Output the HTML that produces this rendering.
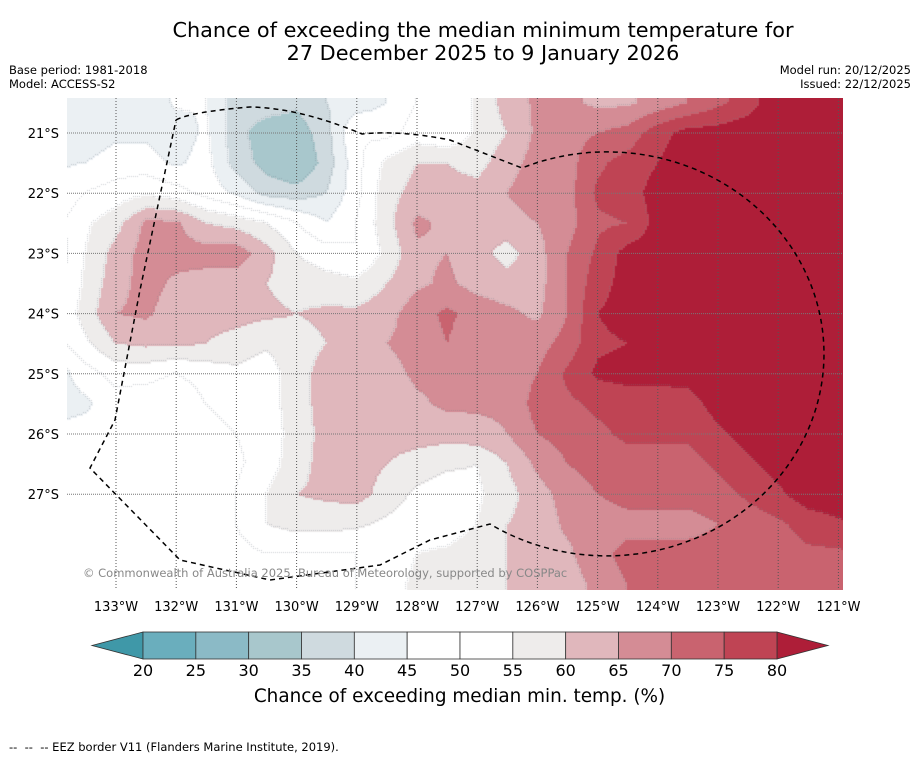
<!DOCTYPE html>
<html><head><meta charset="utf-8"><style>
body{margin:0;background:#fff;width:919px;height:758px;overflow:hidden;position:relative;font-family:"DejaVu Sans","Liberation Sans",sans-serif;}
.t{position:absolute;white-space:nowrap;color:#000;}
</style></head><body>
<div class="t" style="left:0;width:966px;top:19px;text-align:center;font-size:20.8px;line-height:23px;">Chance of exceeding the median minimum temperature for<br>27 December 2025 to 9 January 2026</div>
<div class="t" style="left:9px;top:63px;font-size:11.5px;line-height:14px;">Base period: 1981-2018<br>Model: ACCESS-S2</div>
<div class="t" style="right:8px;top:63px;font-size:11.5px;line-height:14px;text-align:right;">Model run: 20/12/2025<br>Issued: 22/12/2025</div>
<canvas id="map" width="776" height="492" style="position:absolute;left:67px;top:98px;"></canvas>
<svg id="ov" width="919" height="758" style="position:absolute;left:0;top:0;"></svg>
<div class="t" style="left:83px;top:566px;font-size:11.5px;color:#888;">© Commonwealth of Australia 2025, Bureau of Meteorology, supported by COSPPac</div>
<div class="t" style="left:0;width:919px;text-align:center;top:686px;font-size:18.4px;">Chance of exceeding median min. temp. (%)</div>
<div class="t" style="left:9px;top:740px;font-size:11.5px;">--&nbsp; --&nbsp; -- EEZ border V11 (Flanders Marine Institute, 2019).</div>
<script>
const lons=[134,133.5,133,132.5,132,131.5,131,130.5,130,129.5,129,128.5,128,127.5,127,126.5,126,125.5,125,124.5,124,123.5,123,122.5,122,121.5,121,120.5];
const lats=[20.5,21,21.5,22,22.5,23,23.5,24,24.5,25,25.5,26,26.5,27,27.5,28,28.5,29];
const r0=[42,42,43,40,46,45,38,38,36,40,42,45,50,50,56,62,66,66,64,64,67,70,74,77,85,85,85,85];
const r1=[42,42,44,44,42,46,37,32,32,38,50,48,52,50,56,60,66,68,70,72,78,82,82,84,85,85,85,85];
const r2=[44,45,47,47,44,47,38,33,30,37,48,56,60,60,58,63,67,68,74,77,80,83,83,84,85,85,85,85];
const r3=[46,50,52,54,52,48,44,38,37,40,48,58,62,62,62,65,68,68,76,78,82,83,83,84,85,85,85,85];
const r4=[48,54,58,66,66,60,58,55,50,45,50,58,66,64,62,63,65,68,74,75,82,83,83,84,85,85,85,85];
const r5=[46,55,62,67,67,67,68,62,55,52,50,56,64,65,62,58,63,70,76,82,83,83,84,84,85,85,85,85];
const r6=[47,56,63,67,64,63,62,60,58,57,56,60,64,66,63,62,63,70,78,82,83,83,84,84,85,85,85,85];
const r7=[50,57,65,66,62,62,62,61,60,61,61,63,68,71,68,66,64,70,80,82,83,83,84,84,85,85,85,85];
const r8=[48,54,60,61,61,60,58,56,58,60,63,65,67,70,67,67,68,72,79,80,81,82,82,83,85,85,85,85];
const r9=[42,48,52,52,50,52,54,52,58,62,63,63,66,67,67,67,70,76,81,82,82,82,83,84,85,85,85,85];
const r10=[42,44,48,47,46,50,52,52,58,62,62,62,64,66,66,66,72,74,76,77,77,78,82,83,84,85,85,85];
const r11=[47,47,46,48,48,48,50,52,57,62,62,62,62,62,63,65,70,72,74,76,76,76,79,82,84,85,85,85];
const r12=[48,48,50,49,48,48,49,52,58,62,62,60,58,56,55,60,66,70,72,73,73,73,76,79,82,84,85,85];
const r13=[48,48,48,48,48,48,50,55,60,61,62,58,54,52,54,58,63,67,70,72,72,72,73,76,79,83,84,85];
const r14=[48,48,48,48,48,48,50,55,57,57,56,54,52,52,55,60,62,66,67,68,68,68,70,72,74,77,79,80];
const r15=[48,48,48,48,48,48,48,50,50,50,50,52,55,56,58,60,62,64,68,72,72,72,72,72,73,74,74,75];
const r16=[48,48,48,48,48,48,48,48,48,48,50,53,56,58,58,60,61,63,66,70,72,72,72,72,72,72,72,72];
const r17=[48,48,48,48,48,48,48,48,48,48,50,53,56,58,58,60,61,63,66,70,72,72,72,72,72,72,72,72];
const grid=[r0,r1,r2,r3,r4,r5,r6,r7,r8,r9,r10,r11,r12,r13,r14,r15,r16,r17];
const levels=[20,25,30,35,40,45,50,55,60,65,70,75,80];
const colors=["#3f98a8","#6aaebd","#8bbac6","#a8c7cc","#cfdadf","#ebf0f3","#ffffff","#ffffff","#eeeceb","#e0b7bc","#d48c95","#c9636f","#bf4454","#ae1e38"];
const tickLons=[133,132,131,130,129,128,127,126,125,124,123,122,121];
const tickLats=[21,22,23,24,25,26,27];
const cbLabels=[20,25,30,35,40,45,50,55,60,65,70,75,80];
const PX=60.2;
function xOf(lon){return 116+(133-lon)*PX;}
function yOf(lat){return 133+(lat-21)*PX;}
function lonOf(x){return 133-(x-116)/PX;}
function latOf(y){return 21+(y-133)/PX;}
function val(lon,lat){
  let fi=(134-lon)/0.5, fj=(lat-20.5)/0.5;
  fi=Math.max(0,Math.min(lons.length-1.001,fi)); fj=Math.max(0,Math.min(lats.length-1.001,fj));
  const i=Math.floor(fi),j=Math.floor(fj),a=fi-i,b=fj-j;
  return grid[j][i]*(1-a)*(1-b)+grid[j][i+1]*a*(1-b)+grid[j+1][i]*(1-a)*b+grid[j+1][i+1]*a*b;
}
function lvl(v){let k=0;while(k<levels.length&&v>=levels[k])k++;return k;}
const cv=document.getElementById('map'),ctx=cv.getContext('2d');
const S=2,W=776,H=492;
const idx=[];
for(let y=0;y<H;y+=S){const row=[];for(let x=0;x<W;x+=S){row.push(lvl(val(lonOf(x+67+S/2),latOf(y+98+S/2))));}idx.push(row);}
for(let r=0;r<idx.length;r++)for(let c=0;c<idx[r].length;c++){
  ctx.fillStyle=colors[idx[r][c]];ctx.fillRect(c*S,r*S,S,S);
  const k=idx[r][c];
  if((c+1<idx[r].length&&idx[r][c+1]!==k)||(r+1<idx.length&&idx[r+1][c]!==k)){ctx.fillStyle="rgba(120,130,140,0.35)";ctx.fillRect(c*S,r*S,1,1);}
}
const NS="http://www.w3.org/2000/svg",ov=document.getElementById('ov');
function mk(t,a,p){const e=document.createElementNS(NS,t);for(const k in a)e.setAttribute(k,a[k]);(p||ov).appendChild(e);return e;}
tickLons.forEach(l=>{
  const x=xOf(l);
  const g=mk('line',{x1:x,x2:x,y1:98,y2:590,stroke:'#555','stroke-width':1,'stroke-dasharray':'1,2'});
  
  
  const t=mk('text',{x:x,y:611,'font-size':13,'text-anchor':'middle','font-family':'DejaVu Sans, sans-serif'});
  t.textContent=l+'°W';
  
  
});
tickLats.forEach(l=>{
  const y=yOf(l);
  const g=mk('line',{x1:67,x2:843,y1:y,y2:y,stroke:'#777','stroke-width':1,'stroke-dasharray':'1,1'});
  
  
  const t=mk('text',{x:59,y:y+5,'font-size':13,'text-anchor':'end','font-family':'DejaVu Sans, sans-serif'});
  t.textContent=l+'°S';
  
  
});
const eez=mk('path',{d:'M176,120 Q190,112 250,107 Q300,108 362,134 Q400,130 450,140 L522,168 A217,202 0 1 1 490,524 L430,540 L380,565 L270,580 L180,560 L90,468 L115,420 L140,290 L176,120',fill:'none',stroke:'#000','stroke-width':1.5,'stroke-dasharray':'5,4'});


const cbx0=143,cbx1=777,cby=632,cbh=27,bw=(cbx1-cbx0)/12;
const lt=mk('polygon',{points:`${cbx0},${cby} ${cbx0},${cby+cbh} 92,${cby+cbh/2}`,fill:colors[0],stroke:'#333','stroke-width':0.8});


const rt=mk('polygon',{points:`${cbx1},${cby} ${cbx1},${cby+cbh} 828,${cby+cbh/2}`,fill:colors[13],stroke:'#333','stroke-width':0.8});


for(let i=0;i<12;i++){
  const r=mk('rect',{x:cbx0+i*bw,y:cby,width:bw,height:cbh,fill:colors[i+1],stroke:'#333','stroke-width':0.8});
  
  
}
cbLabels.forEach((v,i)=>{
  const t=mk('text',{x:cbx0+i*bw,y:676,'font-size':16,'text-anchor':'middle','font-family':'DejaVu Sans, sans-serif'});
  t.textContent=v;
  
  
});
</script>
</body></html>
